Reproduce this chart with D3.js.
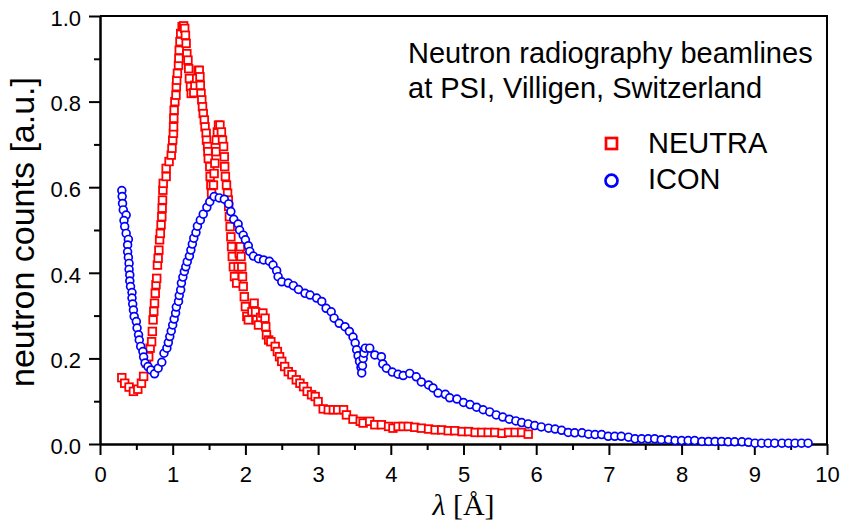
<!DOCTYPE html>
<html>
<head>
<meta charset="utf-8">
<script src="https://cdn.jsdelivr.net/npm/d3@7"></script>
<style>
  body { margin: 0; background: #fff; }
  svg { display: block; }
  .axis path, .axis line { stroke: #000; stroke-width: 2; }
  .axis text { font-family: "Liberation Sans", Arial, Helvetica, sans-serif; font-size: 22px; fill: #000; }
  .label { font-family: "Liberation Sans", Arial, Helvetica, sans-serif; fill: #000; }
</style>
</head>
<body>
<div class="container"></div>
<script>
// NEUTRA beamline (squares)
var neutraLambda = [0.30,0.34,0.40,0.46,0.52,0.57,0.60,0.64,0.67,0.69,0.71,0.72,0.73,0.74,0.75,0.76,0.77,0.78,0.79,0.80,
  0.81,0.82,0.83,0.84,0.85,0.855,0.86,0.865,0.87,0.91,0.91,0.95,0.98,0.99,1.00,1.01,1.012,1.015,1.02,1.03,
  1.045,1.05,1.055,1.065,1.08,1.085,1.09,1.10,1.11,1.13,1.15,1.165,1.175,1.185,1.195,1.21,1.22,1.23,1.245,1.255,
  1.29,1.305,1.33,1.35,1.365,1.375,1.38,1.39,1.40,1.41,1.42,1.435,1.445,1.46,1.465,1.48,1.485,1.49,1.51,1.515,
  1.525,1.535,1.56,1.57,1.58,1.595,1.60,1.615,1.63,1.65,1.67,1.685,1.70,1.71,1.715,1.725,1.74,1.755,1.765,1.77,
  1.78,1.79,1.80,1.81,1.82,1.835,1.85,1.88,1.90,1.915,1.93,1.94,1.95,1.96,1.97,1.985,2.00,2.02,2.04,2.09,
  2.12,2.14,2.155,2.18,2.21,2.24,2.27,2.28,2.29,2.32,2.35,2.41,2.44,2.47,2.50,2.54,2.59,2.64,2.70,2.75,
  2.80,2.85,2.91,2.96,3.00,3.07,3.14,3.21,3.27,3.35,3.39,3.48,3.58,3.62,3.71,3.78,3.87,3.97,4.03,4.10,
  4.17,4.24,4.33,4.42,4.52,4.61,4.70,4.79,4.88,4.98,5.07,5.16,5.25,5.34,5.43,5.53,5.62,5.71,5.80,5.89];
var neutraCounts = [0.155,0.142,0.133,0.123,0.128,0.142,0.158,0.189,0.204,0.224,0.239,0.263,0.290,0.310,0.329,0.352,0.372,0.387,0.418,0.434,
  0.453,0.477,0.492,0.512,0.531,0.551,0.570,0.593,0.609,0.625,0.644,0.660,0.675,0.691,0.710,0.726,0.741,0.761,0.780,0.800,
  0.815,0.835,0.850,0.866,0.885,0.901,0.920,0.940,0.959,0.975,0.977,0.971,0.955,0.936,0.912,0.897,0.877,0.854,0.835,0.819,
  0.821,0.838,0.854,0.873,0.873,0.858,0.838,0.819,0.804,0.788,0.772,0.757,0.741,0.726,0.710,0.695,0.683,0.667,0.648,0.625,
  0.605,0.586,0.605,0.632,0.656,0.683,0.710,0.729,0.745,0.745,0.729,0.710,0.695,0.671,0.648,0.625,0.605,0.586,0.570,0.555,
  0.531,0.508,0.484,0.461,0.438,0.414,0.391,0.376,0.414,0.446,0.461,0.438,0.414,0.391,0.368,0.344,0.321,0.298,0.290,0.309,
  0.329,0.309,0.290,0.278,0.296,0.306,0.294,0.274,0.255,0.243,0.239,0.228,0.216,0.204,0.193,0.181,0.169,0.162,0.150,0.142,
  0.134,0.123,0.115,0.111,0.099,0.082,0.080,0.080,0.080,0.080,0.068,0.058,0.053,0.049,0.053,0.045,0.045,0.041,0.037,0.041,
  0.041,0.041,0.039,0.037,0.035,0.033,0.033,0.031,0.031,0.029,0.029,0.027,0.027,0.027,0.027,0.025,0.027,0.027,0.027,0.023];

// ICON beamline (circles)
var iconLambda = [0.30,0.305,0.31,0.32,0.36,0.33,0.34,0.36,0.39,0.38,0.38,0.39,0.40,0.40,0.41,0.41,0.42,0.44,0.44,0.45,
  0.46,0.47,0.50,0.51,0.53,0.54,0.56,0.59,0.60,0.62,0.66,0.70,0.75,0.80,0.85,0.88,0.92,0.94,0.96,0.98,
  1.00,1.02,1.04,1.05,1.08,1.09,1.11,1.12,1.14,1.16,1.18,1.20,1.23,1.25,1.27,1.29,1.32,1.34,1.38,1.42,
  1.47,1.51,1.57,1.64,1.71,1.77,1.80,1.84,1.90,1.92,1.97,2.00,2.04,2.06,2.11,2.18,2.25,2.33,2.38,2.43,
  2.45,2.50,2.59,2.66,2.73,2.82,2.89,2.98,3.05,3.11,3.18,3.22,3.29,3.37,3.43,3.48,3.51,3.53,3.55,3.57,
  3.59,3.60,3.61,3.62,3.63,3.65,3.71,3.78,3.87,3.89,3.94,4.02,4.10,4.17,4.26,4.35,4.42,4.52,4.58,4.65,
  4.75,4.81,4.91,5.00,5.09,5.18,5.27,5.36,5.45,5.54,5.63,5.72,5.80,5.89,5.98,6.07,6.17,6.26,6.35,6.44,
  6.53,6.63,6.72,6.81,6.90,6.99,7.08,7.17,7.27,7.36,7.45,7.54,7.63,7.72,7.82,7.91,8.00,8.09,8.18,8.28,
  8.37,8.46,8.55,8.64,8.73,8.83,8.92,9.01,9.10,9.19,9.28,9.38,9.47,9.56,9.65,9.74];
var iconCounts = [0.592,0.578,0.562,0.547,0.535,0.522,0.508,0.492,0.478,0.465,0.449,0.436,0.422,0.408,0.395,0.381,0.368,0.354,0.341,0.327,
  0.313,0.298,0.286,0.271,0.255,0.243,0.228,0.216,0.203,0.189,0.181,0.173,0.164,0.177,0.191,0.212,0.224,0.237,0.251,0.264,
  0.278,0.292,0.306,0.320,0.333,0.347,0.360,0.376,0.390,0.403,0.414,0.426,0.439,0.453,0.467,0.481,0.494,0.509,0.523,0.537,
  0.553,0.566,0.578,0.575,0.572,0.561,0.543,0.525,0.514,0.500,0.488,0.477,0.463,0.450,0.439,0.433,0.430,0.427,0.418,0.405,
  0.391,0.379,0.376,0.370,0.361,0.352,0.348,0.341,0.333,0.317,0.309,0.294,0.282,0.274,0.263,0.250,0.236,0.220,0.206,0.193,
  0.179,0.166,0.183,0.200,0.212,0.224,0.224,0.208,0.204,0.187,0.177,0.168,0.163,0.160,0.165,0.157,0.145,0.138,0.131,0.119,
  0.116,0.108,0.105,0.097,0.092,0.086,0.080,0.075,0.068,0.063,0.058,0.054,0.050,0.047,0.043,0.040,0.037,0.035,0.032,0.027,
  0.026,0.026,0.023,0.022,0.022,0.018,0.018,0.018,0.016,0.012,0.012,0.012,0.012,0.010,0.010,0.008,0.008,0.008,0.008,0.006,
  0.006,0.006,0.006,0.005,0.005,0.005,0.004,0.002,0.002,0.002,0.002,0.002,0.002,0.002,0.002,0.002];

var xTicks = [0,1,2,3,4,5,6,7,8,9,10];
var xMinorTicks = [0.5,1.5,2.5,3.5,4.5,5.5,6.5,7.5,8.5,9.5];
var yTicks = [0,0.2,0.4,0.6,0.8,1.0];
var yTickLabels = ["0.0","0.2","0.4","0.6","0.8","1.0"];
var yMinorTicks = [0.1,0.3,0.5,0.7,0.9];
var titleLines = ["Neutron radiography beamlines", "at PSI, Villigen, Switzerland"];
var seriesNames = ["NEUTRA", "ICON"];

const WIDTH = 845;
const HEIGHT = 523;
const LEFT = 100, RIGHT = 827, TOP = 16, BOTTOM = 444;

var translate = function(x, y){
	return "translate(" + x + "," + y + ")";
};

var svg = d3.select('.container').append('svg')
	.attr('width', WIDTH)
	.attr('height', HEIGHT);

var xScale = d3.scaleLinear().domain([0, 10]).range([LEFT, RIGHT]);
var yScale = d3.scaleLinear().domain([0, 1]).range([BOTTOM, TOP]);

// frame (top and right)
svg.append('path')
	.attr('d', 'M' + LEFT + ',' + TOP + 'H' + RIGHT + 'V' + BOTTOM)
	.attr('fill', 'none')
	.attr('stroke', '#000')
	.attr('stroke-width', 2);

// minor ticks
svg.append('g').classed('axis', true)
	.attr('transform', translate(0, BOTTOM))
	.call(d3.axisBottom(xScale).tickValues(xMinorTicks).tickSize(6).tickSizeOuter(0).tickFormat(''));
svg.append('g').classed('axis', true)
	.attr('transform', translate(LEFT, 0))
	.call(d3.axisLeft(yScale).tickValues(yMinorTicks).tickSize(6).tickSizeOuter(0).tickFormat(''));

// major axes
var xAxis = svg.append('g').classed('axis', true)
	.attr('transform', translate(0, BOTTOM))
	.call(d3.axisBottom(xScale).tickValues(xTicks).tickSize(11).tickSizeOuter(0).tickPadding(11).tickFormat(d3.format('d')));

var yAxis = svg.append('g').classed('axis', true)
	.attr('transform', translate(LEFT, 0))
	.call(d3.axisLeft(yScale).tickValues(yTicks).tickSize(11).tickSizeOuter(0).tickPadding(8)
		.tickFormat(function(d, i){ return yTickLabels[i]; }));
yAxis.selectAll('text').attr('dy', '0.42em');

// axis titles
var xTitle = svg.append('text')
	.attr('x', (LEFT + RIGHT) / 2)
	.attr('y', 515)
	.attr('text-anchor', 'middle')
	.style('font-family', '"Liberation Serif", "Times New Roman", serif')
	.style('font-size', '30px');
xTitle.append('tspan').style('font-style', 'italic').text('λ');
xTitle.append('tspan').text(' [Å]');

svg.append('text')
	.classed('label', true)
	.attr('transform', translate(34, 232) + ' rotate(-90)')
	.attr('text-anchor', 'middle')
	.style('font-size', '34px')
	.text('neutron counts [a.u.]');

// data
var neutra = neutraLambda.map(function(l, i){ return [l, neutraCounts[i]]; });
var icon = iconLambda.map(function(l, i){ return [l, iconCounts[i]]; });

svg.append('g').selectAll('rect').data(neutra)
	.enter().append('rect')
	.attr('x', function(d){ return xScale(d[0]) - 3.8; })
	.attr('y', function(d){ return yScale(d[1]) - 3.8; })
	.attr('width', 7.6)
	.attr('height', 7.6)
	.attr('fill', '#fff')
	.attr('stroke', '#ff0000')
	.attr('stroke-width', 1.8);

svg.append('g').selectAll('circle').data(icon)
	.enter().append('circle')
	.attr('cx', function(d){ return xScale(d[0]); })
	.attr('cy', function(d){ return yScale(d[1]); })
	.attr('r', 3.9)
	.attr('fill', '#fff')
	.attr('stroke', '#0000ff')
	.attr('stroke-width', 1.7);

// title text
svg.selectAll('.title').data(titleLines)
	.enter().append('text')
	.classed('label', true)
	.attr('x', 408)
	.attr('y', function(d, i){ return 62.7 + i * 35.6; })
	.style('font-size', '29px')
	.text(function(d){ return d; });

// legend
svg.append('rect')
	.attr('x', 606).attr('y', 138).attr('width', 11).attr('height', 11)
	.attr('fill', '#fff').attr('stroke', '#ff0000').attr('stroke-width', 2.7);
svg.append('circle')
	.attr('cx', 611.5).attr('cy', 180.7).attr('r', 6)
	.attr('fill', '#fff').attr('stroke', '#0000ff').attr('stroke-width', 2.7);
svg.selectAll('.legendText').data(seriesNames)
	.enter().append('text')
	.classed('label', true)
	.attr('x', 648)
	.attr('y', function(d, i){ return 153.3 + i * 36; })
	.style('font-size', '29px')
	.text(function(d){ return d; });
</script>
</body>
</html>
